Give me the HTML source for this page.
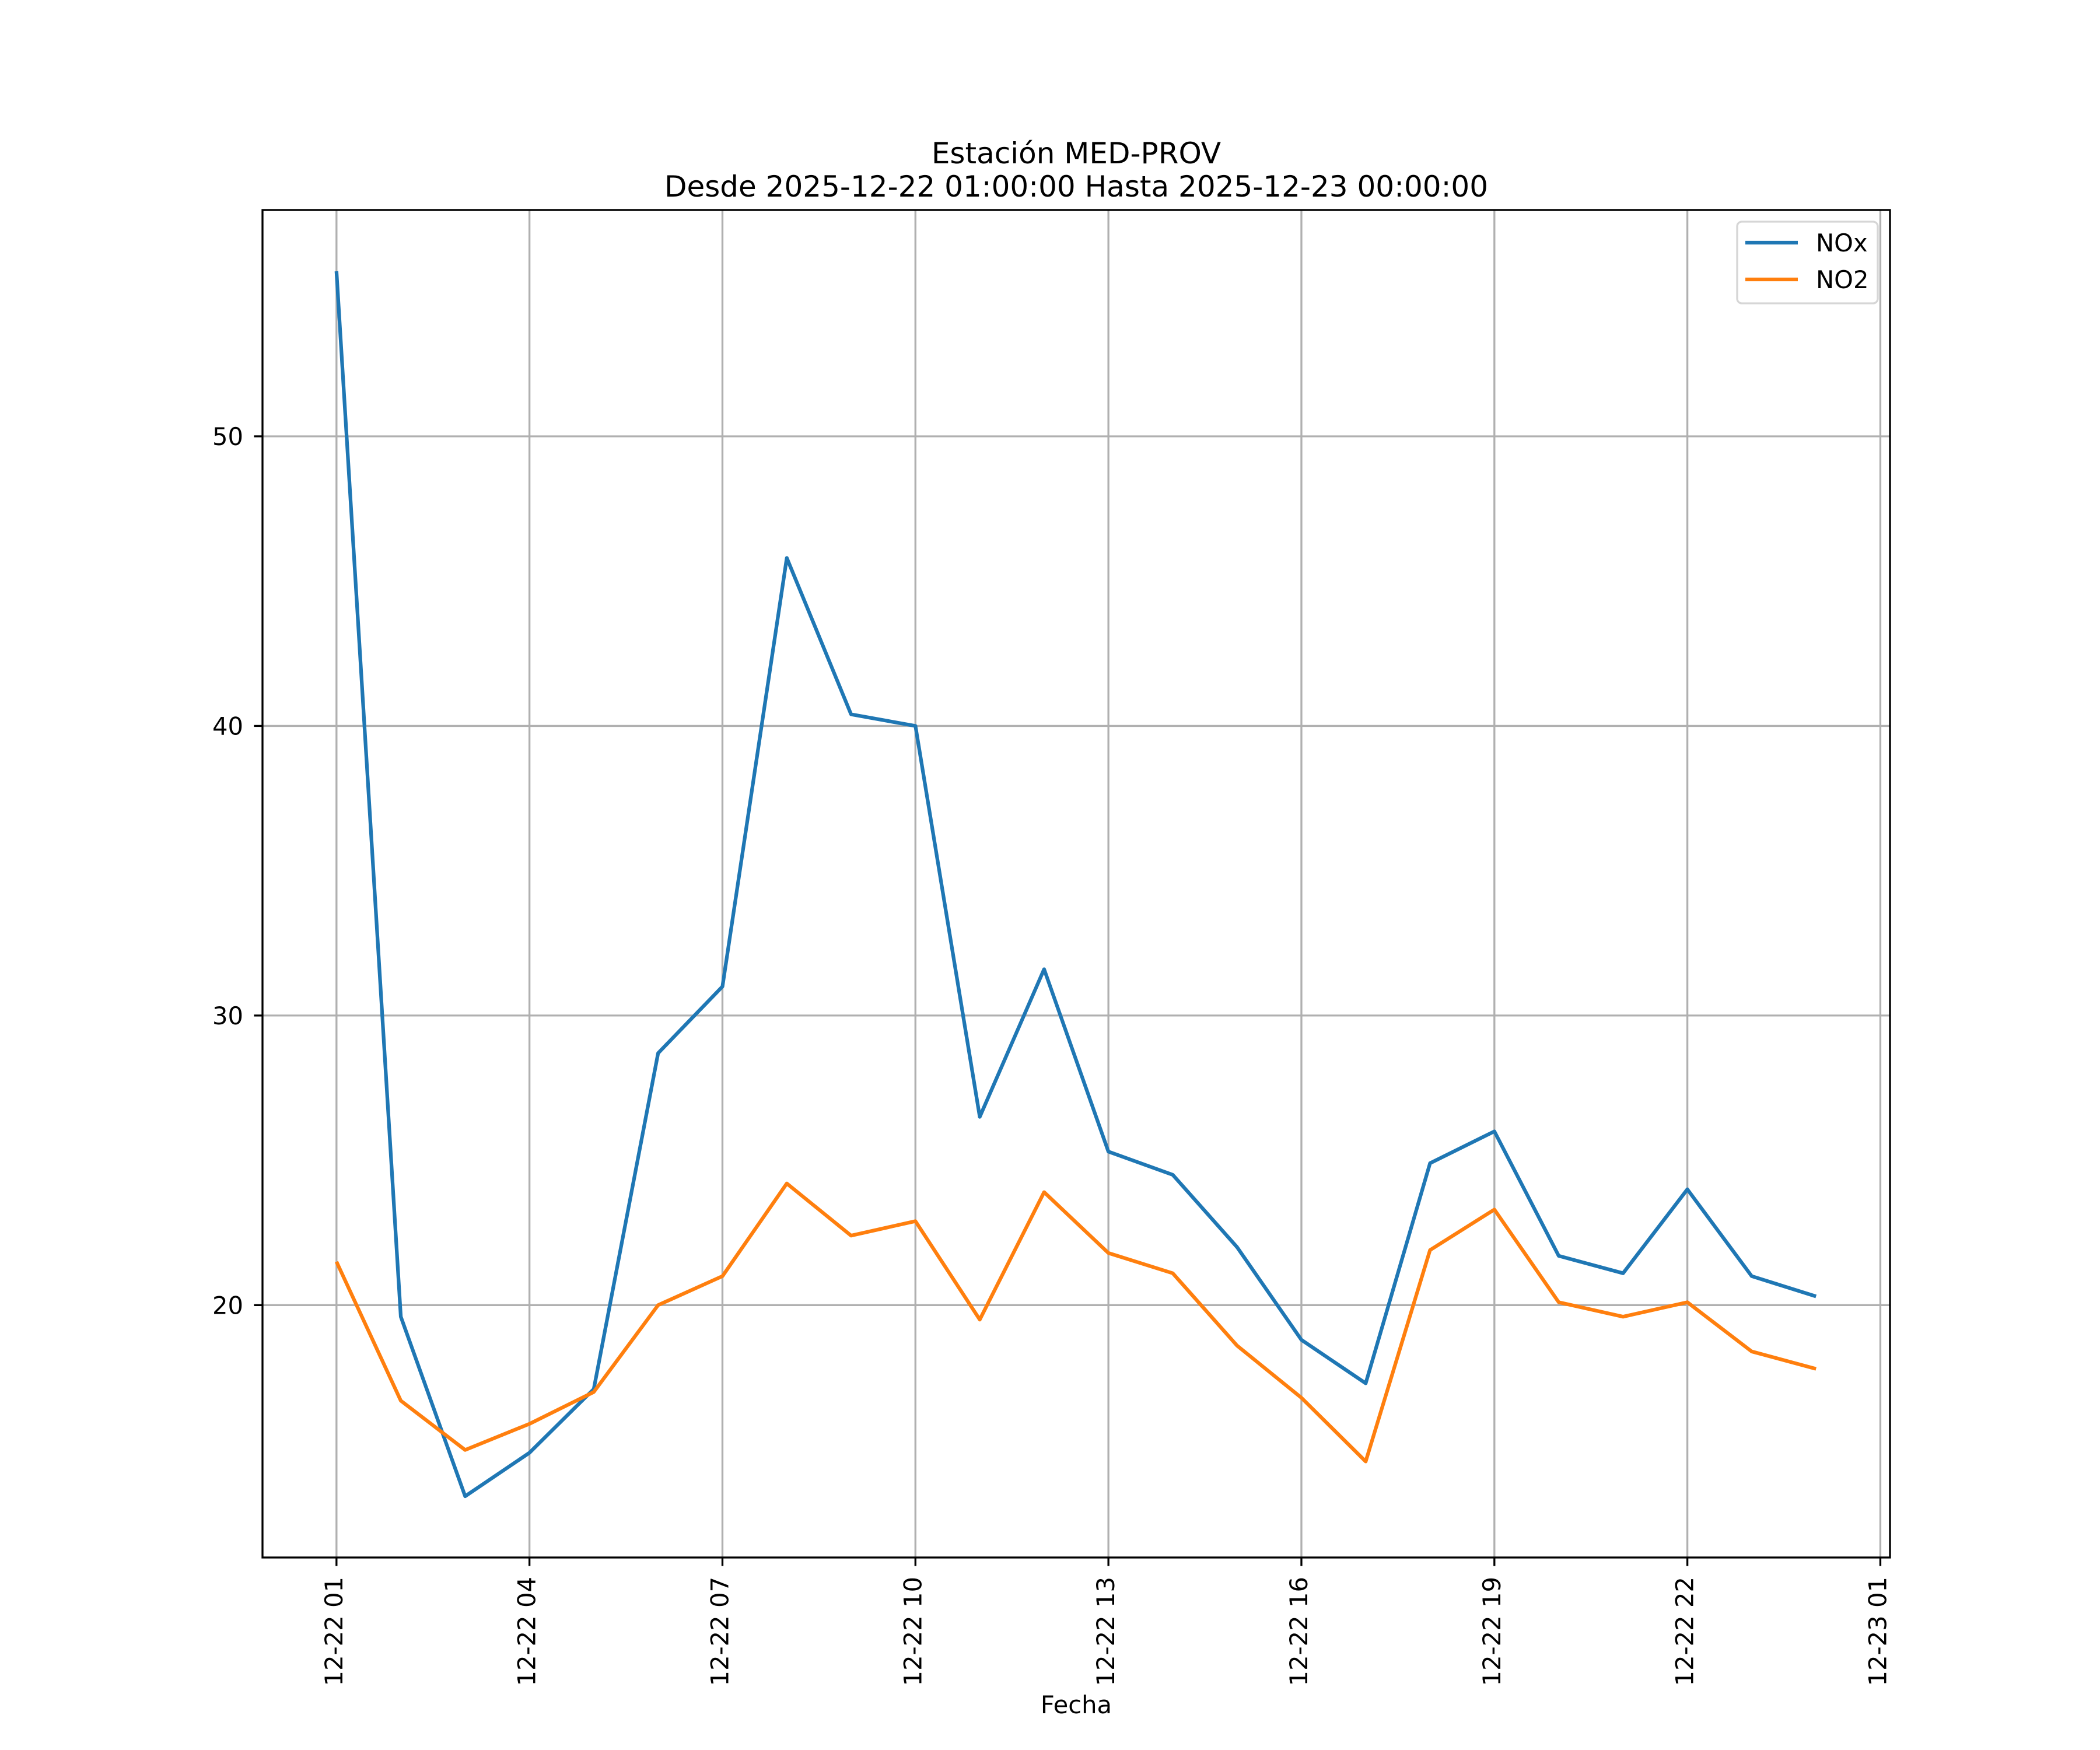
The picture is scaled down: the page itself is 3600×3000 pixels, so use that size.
<!DOCTYPE html>
<html><head><meta charset="utf-8"><style>
html,body{margin:0;padding:0;background:#fff}
svg{display:block}
text{font-family:"DejaVu Sans","Liberation Sans",sans-serif;fill:#000}
</style></head><body>
<svg id="chart" width="3600" height="3000" viewBox="0 0 3600 3000" xmlns="http://www.w3.org/2000/svg">
<rect width="3600" height="3000" fill="#fff"/>
<text x="1845" y="280" font-size="50" text-anchor="middle">Estación MED-PROV</text>
<text x="1845" y="337" font-size="50" text-anchor="middle">Desde 2025-12-22 01:00:00 Hasta 2025-12-23 00:00:00</text>
<g id="grid"></g>
<g id="series"></g>
<rect x="450" y="360" width="2790" height="2310" fill="none" stroke="#000" stroke-width="3.33"/>
<g id="ticks"></g>
<text x="1845" y="2937" font-size="41.7" text-anchor="middle">Fecha</text>
<g>
<rect x="2978" y="380" width="241" height="140" rx="8" fill="#fff" fill-opacity="0.8" stroke="#d6d6d6" stroke-width="3.33"/>
<line x1="2992" y1="416" x2="3082" y2="416" stroke="#1f77b4" stroke-width="6.25"/>
<text x="3113" y="431" font-size="41.7">NOx</text>
<line x1="2992" y1="479" x2="3082" y2="479" stroke="#ff7f0e" stroke-width="6.25"/>
<text x="3113" y="494" font-size="41.7">NO2</text>
</g>
</svg>
<script>
const hours = [1,2,3,4,5,6,7,8,9,10,11,12,13,14,15,16,17,18,19,20,21,22,23,24];
const noxValues = [55.7,19.6,13.4,14.9,17.1,28.7,31.0,45.8,40.4,40.0,26.5,31.6,25.3,24.5,22.0,18.8,17.3,24.9,26.0,21.7,21.1,24.0,21.0,20.3];
const no2Values = [21.5,16.7,15.0,15.9,17.0,20.0,21.0,24.2,22.4,22.9,19.5,23.9,21.8,21.1,18.6,16.8,14.6,21.9,23.3,20.1,19.6,20.1,18.4,17.8];
const xTickHours = [1,4,7,10,13,16,19,22,25];
const xTickLabels = ["12-22 01","12-22 04","12-22 07","12-22 10","12-22 13","12-22 16","12-22 19","12-22 22","12-23 01"];
const yTickValues = [20,30,40,50];
const yTickLabels = ["20","30","40","50"];

const NS="http://www.w3.org/2000/svg";
const L=450,R=3240,T=360,B=2670;
const hMin=Math.min(...hours),hMax=Math.max(...hours),hm=(hMax-hMin)*0.05;
const all=noxValues.concat(no2Values);
const vMin=Math.min(...all),vMax=Math.max(...all),vm=(vMax-vMin)*0.05;
const x0=hMin-hm,x1=hMax+hm,y0=vMin-vm,y1=vMax+vm;
function xs(h){return L+(h-x0)/(x1-x0)*(R-L);}
function ys(v){return B-(v-y0)/(y1-y0)*(B-T);}
function mk(tag,attrs,parent){const e=document.createElementNS(NS,tag);for(const k in attrs)e.setAttribute(k,attrs[k]);parent.appendChild(e);return e;}
const grid=document.getElementById('grid'),ticks=document.getElementById('ticks'),series=document.getElementById('series');
xTickHours.forEach((h,i)=>{
  const x=xs(h);
  const g=mk('line',{x1:x,y1:T,x2:x,y2:B,stroke:'#b0b0b0','stroke-width':3.33},grid);
  
  
  const t=mk('line',{x1:x,y1:B,x2:x,y2:B+14.6,stroke:'#000','stroke-width':3.33},ticks);
  
  
  const lb=mk('text',{transform:`translate(${x+10},${B+33}) rotate(-90)`,'font-size':41.7,'text-anchor':'end'},ticks);
  lb.textContent=xTickLabels[i];
  
  
});
yTickValues.forEach((v,i)=>{
  const y=ys(v);
  const g=mk('line',{x1:L,y1:y,x2:R,y2:y,stroke:'#b0b0b0','stroke-width':3.33},grid);
  
  
  const t=mk('line',{x1:L-14.6,y1:y,x2:L,y2:y,stroke:'#000','stroke-width':3.33},ticks);
  
  
  const lb=mk('text',{x:L-33,y:y+15,'font-size':41.7,'text-anchor':'end'},ticks);
  lb.textContent=yTickLabels[i];
  
  
});
function line(vals,color,name){
  const pts=hours.map((h,i)=>xs(h).toFixed(1)+','+ys(vals[i]).toFixed(1)).join(' ');
  const p=mk('polyline',{points:pts,fill:'none',stroke:color,'stroke-width':6.25,'stroke-linejoin':'round'},series);
  
  
}
line(noxValues,'#1f77b4','nox-line');
line(no2Values,'#ff7f0e','no2-line');
</script>
</body></html>
